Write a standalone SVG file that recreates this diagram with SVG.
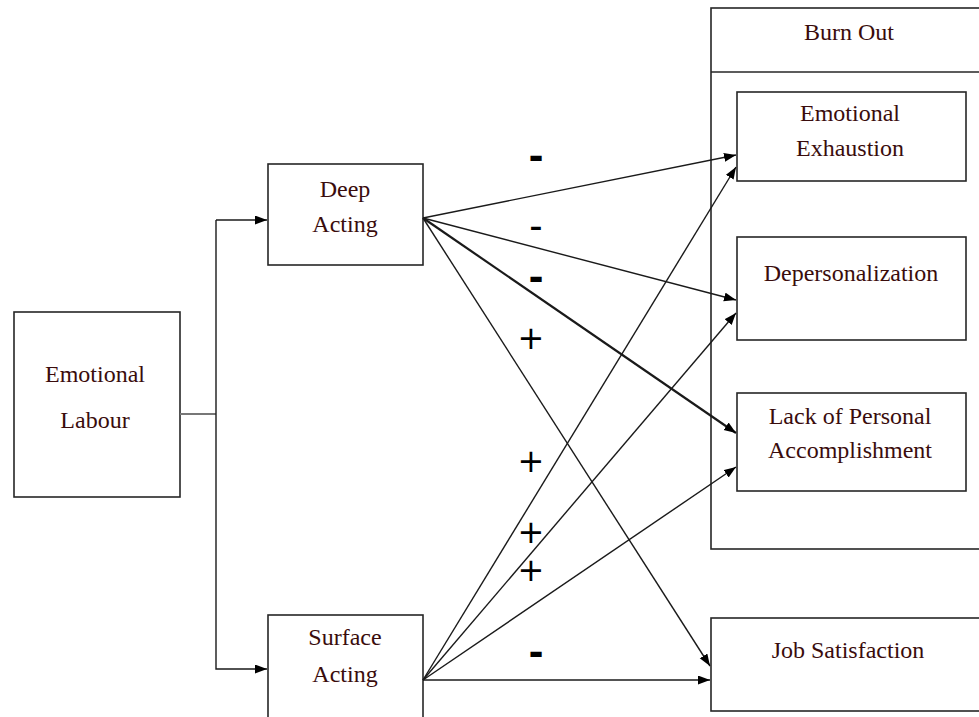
<svg xmlns="http://www.w3.org/2000/svg" width="979" height="717" viewBox="0 0 979 717">
<style>
.box{fill:#fff;stroke:#262626;stroke-width:1.6}
.lbl{font-family:"Liberation Serif","Times New Roman",serif;font-size:24px;fill:#3a0c0c;text-anchor:middle}
.ln{stroke:#1a1a1a;stroke-width:1.4;fill:none}
.sign{font-family:"Liberation Sans",Arial,sans-serif;fill:#000;text-anchor:middle}
.plus{font-family:"DejaVu Sans",sans-serif;font-size:32px;fill:#000;text-anchor:middle}
</style>
<defs>
<marker id="arr" markerUnits="userSpaceOnUse" markerWidth="13" markerHeight="10" refX="12" refY="4.5" orient="auto">
<path d="M0,0 L12,4.5 L0,9 z" fill="#000"/>
</marker>
</defs>
<rect width="979" height="717" fill="#fff"/>
<g id="burnout">
<rect class="box" x="711" y="8" width="290" height="541"/>
<line x1="711" y1="72" x2="979" y2="72" stroke="#262626" stroke-width="1.6"/>
<text class="lbl" x="849" y="40">Burn Out</text>
</g>
<g id="emotional-labour">
<rect class="box" x="14" y="312" width="166" height="185"/>
<text class="lbl" x="95" y="382">Emotional</text>
<text class="lbl" x="95" y="428">Labour</text>
</g>
<g id="deep-acting">
<rect class="box" x="268" y="164" width="155" height="101"/>
<text class="lbl" x="345" y="197">Deep</text>
<text class="lbl" x="345" y="232">Acting</text>
</g>
<g id="surface-acting">
<rect class="box" x="268" y="615" width="155" height="120"/>
<text class="lbl" x="345" y="645">Surface</text>
<text class="lbl" x="345" y="682">Acting</text>
</g>
<g id="emotional-exhaustion">
<rect class="box" x="737" y="92" width="229" height="89"/>
<text class="lbl" x="850" y="121">Emotional</text>
<text class="lbl" x="850" y="156">Exhaustion</text>
</g>
<g id="depersonalization">
<rect class="box" x="737" y="237" width="229" height="103"/>
<text class="lbl" x="851" y="281">Depersonalization</text>
</g>
<g id="lack-personal-accomplishment">
<rect class="box" x="737" y="393" width="229" height="98"/>
<text class="lbl" x="850" y="424">Lack of Personal</text>
<text class="lbl" x="850" y="458">Accomplishment</text>
</g>
<g id="job-satisfaction">
<rect class="box" x="711" y="618" width="290" height="93"/>
<text class="lbl" x="848" y="658">Job Satisfaction</text>
</g>
<g id="connectors">
<line x1="180" y1="414" x2="216" y2="414" stroke="#777" stroke-width="2"/>
<polyline class="ln" points="216,220 216,669 267,669" marker-end="url(#arr)"/>
<line class="ln" x1="216" y1="220" x2="267" y2="220" marker-end="url(#arr)"/>
<line class="ln" x1="423" y1="218" x2="736" y2="155" marker-end="url(#arr)"/>
<line class="ln" x1="423" y1="218" x2="736" y2="300" marker-end="url(#arr)"/>
<line class="ln" x1="423" y1="218" x2="736" y2="433" marker-end="url(#arr)" style="stroke-width:2.2"/>
<line class="ln" x1="423" y1="218" x2="710" y2="666" marker-end="url(#arr)"/>
<line class="ln" x1="423" y1="680" x2="736" y2="167" marker-end="url(#arr)"/>
<line class="ln" x1="423" y1="680" x2="736" y2="313" marker-end="url(#arr)"/>
<line class="ln" x1="423" y1="680" x2="736" y2="467" marker-end="url(#arr)"/>
<line class="ln" x1="423" y1="680" x2="710" y2="680" marker-end="url(#arr)"/>
</g>
<g id="signs">
<text class="sign" x="536" y="170" font-size="44" font-weight="bold">-</text>
<text class="sign" x="536" y="239" font-size="40">-</text>
<text class="sign" x="536" y="291" font-size="44" font-weight="bold">-</text>
<text class="plus" x="531" y="349">+</text>
<text class="plus" x="531" y="472">+</text>
<text class="plus" x="531" y="543">+</text>
<text class="plus" x="531" y="581">+</text>
<text class="sign" x="536" y="666" font-size="44" font-weight="bold">-</text>
</g>
</svg>
